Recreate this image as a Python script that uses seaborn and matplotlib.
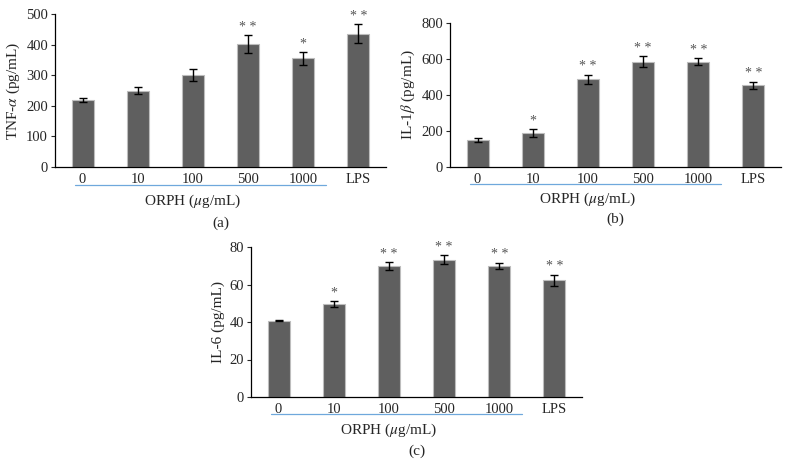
import numpy as np
import pandas as pd
import matplotlib
matplotlib.use("Agg")
import matplotlib.pyplot as plt
import matplotlib.transforms as mtransforms
import seaborn as sns

# --- data ---
groups = ["0", "10", "100", "500", "1000", "LPS"]

tnf_mean = [220, 250, 300, 402, 355, 436]
tnf_err = [6, 12, 19, 29, 22, 31]
tnf_sig = ["", "", "", "**", "*", "**"]

il1b_mean = [148, 188, 487, 585, 585, 453]
il1b_err = [11, 21, 25, 30, 19, 20]
il1b_sig = ["", "*", "**", "**", "**", "**"]

il6_mean = [40.8, 49.5, 70.0, 73.3, 70.0, 62.2]
il6_err = [0.5, 1.5, 2.0, 2.2, 1.5, 3.0]
il6_sig = ["", "*", "**", "**", "**", "**"]

sns.set_theme(style="ticks")
plt.rcParams["font.family"] = ["Liberation Serif", "DejaVu Serif"]
plt.rcParams["mathtext.fontset"] = "stix"

fig = plt.figure(figsize=(7.89, 4.67), dpi=100)
W, H = 789, 467


def px_axes(left, top, right, bottom):
    return fig.add_axes([left / W, 1 - bottom / H, (right - left) / W, (bottom - top) / H])


panels = [
    (px_axes(55, 14, 386, 167), tnf_mean, tnf_err, tnf_sig, 500, 100,
     r"TNF-$\alpha$ (pg/mL)", "(a)"),
    (px_axes(450, 23, 781, 167), il1b_mean, il1b_err, il1b_sig, 800, 200,
     r"IL-1$\beta$ (pg/mL)", "(b)"),
    (px_axes(251, 247, 582, 397), il6_mean, il6_err, il6_sig, 80, 20,
     "IL-6 (pg/mL)", "(c)"),
]

for ax, mean, err, sig, ymax, step, ylab, tag in panels:
    df = pd.DataFrame({"group": groups, "value": mean})
    sns.barplot(data=df, x="group", y="value", ax=ax, color="#5f5f5f",
                saturation=1, width=0.4, edgecolor="#bdbdbd", linewidth=0.8)
    ax.errorbar(np.arange(len(groups)), mean, yerr=err, fmt="none",
                ecolor="black", elinewidth=1.0, capsize=3, capthick=1.0)
    for i, (m, e, s) in enumerate(zip(mean, err, sig)):
        if s:
            ax.text(i, m + e + ymax * 0.01, s.replace("**", "* *"),
                    ha="center", va="bottom", fontsize=10, color="#555555")
    ax.set_xlim(-0.5, len(groups) - 0.5)
    ax.set_ylim(0, ymax)
    ax.set_yticks(np.arange(0, ymax + 1, step))
    ax.tick_params(axis="y", direction="out", length=3, width=0.8, labelsize=10.5, pad=2)
    ax.tick_params(axis="x", length=0, labelsize=10.5, pad=4)
    for sp in ["top", "right"]:
        ax.spines[sp].set_visible(False)
    for sp in ["left", "bottom"]:
        ax.spines[sp].set_linewidth(0.9)
        ax.spines[sp].set_color("black")
    ax.set_xlabel("")
    ax.set_ylabel(ylab, fontsize=11, labelpad=3)

    # blue bracket under the ORPH doses and the axis labels below it
    trans = mtransforms.blended_transform_factory(ax.transData, ax.transAxes)
    ax.plot([-0.14, 4.41], [-0.115, -0.115], transform=trans, color="#6fa8dc",
            linewidth=0.9, clip_on=False)
    ax.text(2.0, -0.225, r"ORPH ($\mu$g/mL)", transform=trans, ha="center",
            va="center", fontsize=11)
    ax.text(2.5, -0.365, tag, transform=trans, ha="center", va="center", fontsize=11)

fig.savefig("out.png", dpi=100)
